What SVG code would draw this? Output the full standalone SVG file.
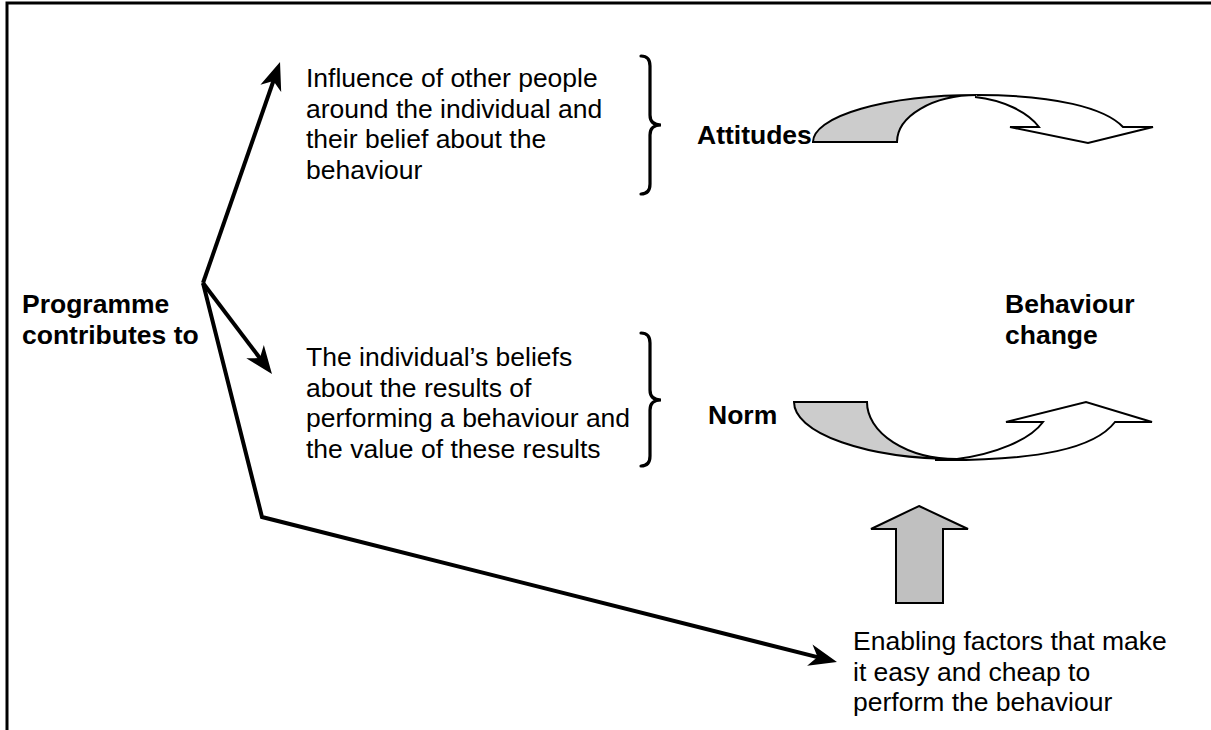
<svg xmlns="http://www.w3.org/2000/svg" width="1211" height="730" viewBox="0 0 1211 730">
<style>
text{font-family:"Liberation Sans",Arial,sans-serif;font-size:26.5px;fill:#000}
.b{font-weight:bold}
.conn{fill:none;stroke:#000;stroke-width:4;stroke-linejoin:miter}
.brace{fill:none;stroke:#000;stroke-width:3.2;stroke-linecap:round}
.shape{stroke:#000;stroke-width:2;stroke-linejoin:miter}
.grey{fill:#cccccc}
.white{fill:#fff}
</style>
<defs>
<marker id="ah" viewBox="0 -12 30 24" refX="10" refY="0" markerWidth="30" markerHeight="24" markerUnits="userSpaceOnUse" orient="auto">
<path d="M0,-11 L28,0 L0,11 L8,0 Z" fill="#000"/>
</marker>
</defs>
<rect width="1211" height="730" fill="#fff"/>
<g id="frame">
<path d="M7,730 L7,3 L1211,3" fill="none" stroke="#000" stroke-width="3"/>
</g>
<g id="connectors">
<path class="conn" d="M203,283 L274.1,79" marker-end="url(#ah)"/>
<path class="conn" d="M203,283 L261.1,359.7" marker-end="url(#ah)"/>
<path class="conn" d="M203,283 L262,517 L819.5,657.6" marker-end="url(#ah)"/>
</g>
<g id="programme">
<text class="b" x="22" y="313">Programme</text>
<text class="b" x="22" y="344">contributes to</text>
</g>
<g id="influence">
<text x="306" y="87">Influence of other people</text>
<text x="306" y="117.5">around the individual and</text>
<text x="306" y="148">their belief about the</text>
<text x="306" y="178.5">behaviour</text>
</g>
<g id="beliefs">
<text x="306" y="366">The individual’s beliefs</text>
<text x="306" y="396.5">about the results of</text>
<text x="306" y="427">performing a behaviour and</text>
<text x="306" y="457.5">the value of these results</text>
</g>
<g id="enabling">
<text x="853" y="650">Enabling factors that make</text>
<text x="853" y="680.5">it easy and cheap to</text>
<text x="853" y="711">perform the behaviour</text>
</g>
<g id="brace-top">
<path class="brace" d="M641,56 Q650,56 650,66 L650,115 Q650,125 661,125 Q650,125 650,135 L650,184 Q650,194 641,194"/>
</g>
<g id="brace-bottom">
<path class="brace" d="M641,333 Q650,333 650,343 L650,390 Q650,400 661,400 Q650,400 650,410 L650,456 Q650,466 641,466"/>
</g>
<g id="attitudes">
<text class="b" x="697" y="144">Attitudes</text>
</g>
<g id="norm">
<text class="b" x="708" y="424">Norm</text>
</g>
<g id="behaviour-change">
<text class="b" x="1005" y="313">Behaviour</text>
<text class="b" x="1005" y="344">change</text>
</g>
<g id="curved-arrow-top">
<path class="shape grey" d="M813,142 A164,47 0 0 1 977,95 A80,47 0 0 0 897,142 Z"/>
<path class="shape white" d="M977,95 C1055,95 1105,108 1123,127 L1153,127 L1088,143 L1010,127 L1039,127 C1028,112 1003,100 975,97"/>
</g>
<g id="curved-arrow-bottom">
<path class="shape grey" d="M794,402 A163,57 0 0 0 957,459 A90,57 0 0 1 867,402 Z"/>
<path class="shape white" d="M935,460 C1040,461 1095,448 1115,422 L1152,422 L1086,402 L1006,422 L1043,422 C1030,440 995,454 957,459"/>
</g>
<g id="up-arrow">
<path class="shape" fill="#c0c0c0" d="M919,506 L968,529 L943,529 L943,603 L896,603 L896,529 L871,529 Z"/>
</g>
</svg>
